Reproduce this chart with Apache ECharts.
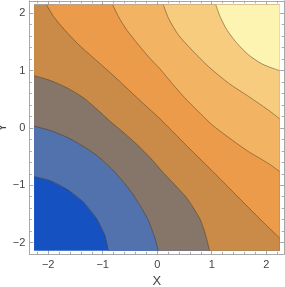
<!DOCTYPE html>
<html><head><meta charset="utf-8">
<script src="https://cdn.jsdelivr.net/npm/echarts@6/dist/echarts.min.js"></script>
<style>html,body{margin:0;padding:0;background:#fff}#c{width:285px;height:287px}</style>
</head><body><div id="c"></div>
<script>
// tick values
const xTicks = [-2, -1, 0, 1, 2];
const yTicks = [-2, -1, 0, 1, 2];
const minorTicks = [-2.2,-1.8,-1.6,-1.4,-1.2,-0.8,-0.6,-0.4,-0.2,0.2,0.4,0.6,0.8,1.2,1.4,1.6,1.8,2.2];
// filled plot range (data units)
const plotX = [-2.26, 2.245];
const plotY = [-2.14, 2.145];
// contour lines, [x, y]
// c1..c3 run from left edge to bottom edge, c4..c7 from top edge to right edge
const c1 = [[-2.26,-0.85],[-1.97,-0.92],[-1.66,-1.07],[-1.36,-1.29],[-1.11,-1.59],[-0.96,-1.88],[-0.90,-2.14]];
const c2 = [[-2.26,0.03],[-1.95,-0.05],[-1.58,-0.20],[-1.11,-0.48],[-0.76,-0.79],[-0.46,-1.14],[-0.18,-1.58],[-0.04,-1.93],[0.02,-2.14]];
const c3 = [[-2.26,0.91],[-1.97,0.83],[-1.66,0.70],[-1.36,0.53],[-1.10,0.32],[-0.87,0.12],[-0.62,-0.08],[-0.37,-0.29],[-0.12,-0.53],[0.11,-0.78],[0.33,-1.00],[0.54,-1.22],[0.70,-1.45],[0.79,-1.60],[0.88,-1.84],[0.96,-2.14]];
const c4 = [[-2.03,2.145],[-1.90,1.94],[-1.70,1.71],[-1.45,1.46],[-1.17,1.22],[-0.87,0.97],[-0.52,0.66],[-0.25,0.42],[0.05,0.16],[0.54,-0.31],[1.03,-0.77],[1.52,-1.24],[1.95,-1.65],[2.245,-1.92]];
const c5 = [[-0.815,2.145],[-0.71,1.94],[-0.56,1.71],[-0.37,1.48],[-0.16,1.24],[0.05,1.03],[0.27,0.78],[0.50,0.53],[0.75,0.29],[1.0,0.06],[1.30,-0.16],[1.67,-0.41],[2.04,-0.62],[2.245,-0.76]];
const c6 = [[0.114,2.145],[0.206,1.914],[0.39,1.62],[0.635,1.36],[0.94,1.07],[1.31,0.78],[1.675,0.55],[2.04,0.31],[2.245,0.16]];
const c7 = [[1.076,2.145],[1.155,1.94],[1.278,1.71],[1.462,1.478],[1.675,1.274],[1.921,1.117],[2.165,1.024],[2.245,1.0]];
const contours = [c1, c2, c3, c4, c5, c6, c7];
const bandColors = ['#1651C2','#5272AE','#867669','#C98B47','#EC9B4B','#F2B463','#F8CC7F','#FDF4B2'];

const fmt = v => (v < 0 ? '\u2212' + Math.abs(v) : String(v));
const frameColor = '#a8a8a8';
const font = 'Liberation Sans, Arial, sans-serif';
const XR = [-2.347, 2.33], YR = [-2.204, 2.216];

function xAx(pos, values, len, main) {
  const lab = main && pos === 'bottom';
  return {
    type: 'value', position: pos, min: XR[0], max: XR[1],
    axisLine: { show: main, onZero: false, lineStyle: { color: frameColor, width: 1 } },
    axisTick: { show: true, inside: true, length: len, customValues: values, lineStyle: { color: frameColor } },
    axisLabel: lab ? { show: true, customValues: values, formatter: fmt, color: '#444', fontSize: 11, fontFamily: font, margin: 5 } : { show: false },
    splitLine: { show: false },
    name: lab ? 'X' : '',
    nameLocation: 'middle', nameGap: 21, nameMoveOverlap: false,
    nameTextStyle: { color: '#444', fontSize: 13, fontFamily: font }
  };
}
function yAx(pos, values, len, main) {
  const lab = main && pos === 'left';
  return {
    type: 'value', position: pos, min: YR[0], max: YR[1],
    axisLine: { show: main, onZero: false, lineStyle: { color: frameColor, width: 1 } },
    axisTick: { show: true, inside: true, length: len, customValues: values, lineStyle: { color: frameColor } },
    axisLabel: lab ? { show: true, customValues: values, formatter: fmt, color: '#444', fontSize: 11, fontFamily: font, margin: 4 } : { show: false },
    splitLine: { show: false },
    name: lab ? 'Y' : '',
    nameLocation: 'middle', nameGap: 20.5, nameMoveOverlap: false,
    nameTextStyle: { color: '#444', fontSize: 13, fontFamily: font }
  };
}

const chart = echarts.init(document.getElementById('c'), null, { renderer: 'canvas' });
chart.setOption({
  animation: false,
  backgroundColor: '#fff',
  grid: { left: 29.3, right: 0.8, top: 0.8, bottom: 32.7, containLabel: false, outerBoundsMode: 'none' },
  xAxis: [xAx('bottom', xTicks, 4, true), xAx('bottom', minorTicks, 2.5, false), xAx('top', xTicks, 4, true), xAx('top', minorTicks, 2.5, false)],
  yAxis: [yAx('left', yTicks, 4, true), yAx('left', minorTicks, 2.5, false), yAx('right', yTicks, 4, true), yAx('right', minorTicks, 2.5, false)],
  series: [{
    type: 'custom', coordinateSystem: 'cartesian2d', xAxisIndex: 0, yAxisIndex: 0,
    data: [[0, 0]], silent: true, clip: false,
    renderItem: function (params, api) {
      const P = p => api.coord(p);
      const children = [];
      const x0 = plotX[0], x1 = plotX[1], y0 = plotY[0], y1 = plotY[1];
      children.push({ type: 'polygon', shape: { points: [[x0,y0],[x1,y0],[x1,y1],[x0,y1]].map(P) }, style: { fill: bandColors[0] } });
      contours.forEach((c, i) => {
        let pts = c.slice();
        if (i < 3) pts = pts.concat([[x1,y0],[x1,y1],[x0,y1]]);
        else pts = pts.concat([[x1,y1]]);
        children.push({ type: 'polygon', shape: { points: pts.map(P) }, style: { fill: bandColors[i + 1] } });
      });
      contours.forEach(c => {
        children.push({ type: 'polyline', shape: { points: c.map(P), smooth: 0.3 }, style: { stroke: 'rgba(50,35,20,0.6)', lineWidth: 0.7, fill: null } });
      });
      return { type: 'group', children: children };
    }
  }]
});
</script></body></html>
